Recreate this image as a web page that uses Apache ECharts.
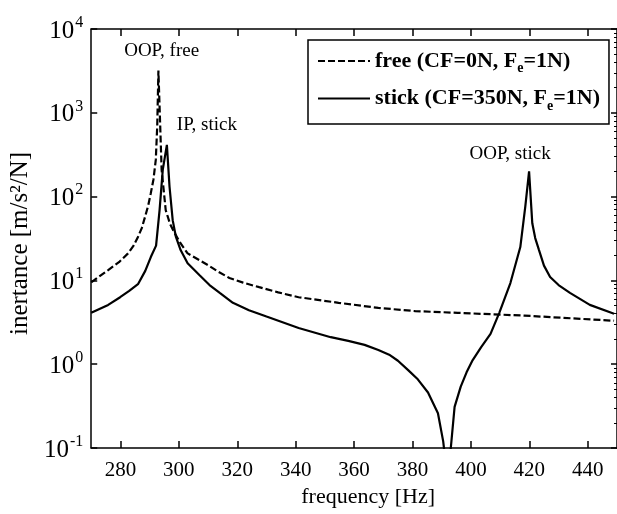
<!DOCTYPE html>
<html>
<head>
    <meta charset="utf-8">
    <title>inertance - free / stick</title>
    <script src="https://cdn.jsdelivr.net/npm/echarts@6/dist/echarts.min.js"></script>
</head>
<body style="margin:0;background:#fff">
    <div id="main" style="width:617px;height:514px;"></div>
    <script type="text/javascript">
        // curve, frequency in Hz and inertance in m/s^2/N
        var freeHz = [270, 275.8, 279.5, 282.6, 284.5, 286, 287.3, 288.4, 289.5, 290.4, 291.3, 292.1, 292.6, 293.0,
            294.1, 295.5, 297, 298.5, 300.5, 303, 307, 310, 313.5, 317.3, 322, 327.5, 334, 341, 354.7, 368.3,
            380.9, 395.5, 418.3, 449];
        var freeVal = [9.5, 13.3, 16.5, 21, 26, 33, 42, 57, 78, 110, 160, 274, 700, 3200,
            210, 69, 47, 37, 28, 21, 17.5, 15.2, 12.7, 10.7, 9.4, 8.3, 7.2, 6.3, 5.4, 4.7,
            4.3, 4.1, 3.8, 3.3];

        var stickHz = [270, 275.8, 279.9, 283, 286, 288.5, 290.4, 292.2, 293.4, 294.5, 295.9, 296.8, 297.9, 299,
            300.6, 303, 307.1, 310.5, 314, 318.5, 324, 330, 341, 352, 358, 363.6, 368.3, 372, 375, 378.5, 381.8,
            385.3, 388.7, 390.5, 391.5, 392.5, 393.1, 394.4, 396.5, 398.5, 400.6, 403.5, 406.7, 409.7, 413.5,
            416.9, 418.6, 419.9, 421, 422, 423.3, 425, 427.1, 430, 433.9, 440.7, 449];
        var stickVal = [4.1, 5.1, 6.3, 7.5, 9, 13, 19, 26, 69, 210, 415, 132, 52, 33,
            23, 16, 11.5, 8.8, 7.1, 5.4, 4.4, 3.7, 2.7, 2.1, 1.9, 1.7, 1.48, 1.3, 1.1, 0.85, 0.66,
            0.46, 0.26, 0.12, 0.06, 0.06, 0.1, 0.31, 0.54, 0.8, 1.12, 1.6, 2.3, 4.1, 9.3,
            25, 76, 200, 48, 32, 23, 15, 11, 8.8, 7.1, 5.1, 4.0];

        var xTicks = [280, 300, 320, 340, 360, 380, 400, 420, 440];
        var yMajor = [0.1, 1, 10, 100, 1000, 10000];
        var yMinor = [];
        for (var k = 0; k < yMajor.length - 1; k++) {
            for (var m = 2; m <= 9; m++) {
                yMinor.push(+(yMajor[k] * m).toPrecision(3));
            }
        }

        var notes = [
            [294.1, 5460, 'OOP, free'],
            [309.6, 715, 'IP, stick'],
            [413.4, 322, 'OOP, stick']
        ];

        function zip(xs, ys) {
            return xs.map(function (x, i) { return [x, ys[i]]; });
        }

        var font = '"Liberation Serif", "DejaVu Serif", serif';

        var dom = document.getElementById('main');
        var myChart = echarts.init(dom, null, { renderer: 'canvas' });

        var option = {
            backgroundColor: '#fff',
            animation: false,
            textStyle: { fontFamily: font, color: '#000' },
            grid: { left: 91, top: 29, width: 529, height: 419, containLabel: false },
            legend: {
                data: ['free', 'stick'],
                orient: 'vertical',
                left: 308,
                top: 40,
                padding: [10, 9, 11, 9],
                itemGap: 12,
                itemWidth: 52,
                itemHeight: 14,
                itemStyle: { opacity: 0 },
                borderColor: '#000',
                borderWidth: 1.5,
                borderRadius: 0,
                textStyle: {
                    fontFamily: font,
                    fontSize: 22,
                    fontWeight: 'bold',
                    color: '#000',
                    rich: {
                        t: { fontFamily: font, fontSize: 22, fontWeight: 'bold', color: '#000' },
                        sub: { fontFamily: font, fontSize: 14, color: '#000', verticalAlign: 'top', padding: [15, 0, 0, 0] }
                    }
                },
                formatter: function (name) {
                    if (name === 'free') {
                        return '{t|free (CF=0N, F}{sub|e}{t|=1N)}';
                    }
                    return '{t|stick (CF=350N, F}{sub|e}{t|=1N)}';
                }
            },
            xAxis: [{
                type: 'value',
                min: 270,
                max: 450,
                name: 'frequency [Hz]',
                nameLocation: 'middle',
                nameGap: 38,
                nameTextStyle: { fontFamily: font, fontSize: 22, color: '#000', padding: [0, 0, 0, 28] },
                splitLine: { show: false },
                axisLine: { lineStyle: { color: '#000', width: 1.5 } },
                axisTick: { inside: true, length: 7, customValues: xTicks, lineStyle: { color: '#000', width: 1.5 } },
                axisLabel: { customValues: xTicks, fontFamily: font, fontSize: 21, color: '#000', margin: 12 }
            }, {
                type: 'value',
                position: 'top',
                min: 270,
                max: 450,
                splitLine: { show: false },
                axisLine: { lineStyle: { color: '#000', width: 1.5 } },
                axisTick: { inside: true, length: 7, customValues: xTicks, lineStyle: { color: '#000', width: 1.5 } },
                axisLabel: { show: false }
            }],
            yAxis: [{
                type: 'log',
                logBase: 10,
                min: 0.1,
                max: 10000,
                name: 'inertance [m/s\u00b2/N]',
                nameLocation: 'middle',
                nameGap: 52,
                nameRotate: 90,
                nameTextStyle: { fontFamily: font, fontSize: 25, color: '#000', padding: [0, 0, 0, -10] },
                splitLine: { show: false },
                axisLine: { lineStyle: { color: '#000', width: 1.5 } },
                axisTick: { inside: true, length: 6, customValues: yMajor, lineStyle: { color: '#000', width: 1.5 } },
                axisLabel: {
                    customValues: yMajor,
                    margin: 8,
                    formatter: function (v) {
                        return '{b|10}{s|' + Math.round(Math.log10(v)) + '}';
                    },
                    rich: {
                        b: { fontFamily: font, fontSize: 25, color: '#000', verticalAlign: 'bottom' },
                        s: { fontFamily: font, fontSize: 16, color: '#000', verticalAlign: 'bottom', padding: [0, 0, 13, 1] }
                    }
                }
            }, {
                type: 'log',
                logBase: 10,
                min: 0.1,
                max: 10000,
                splitLine: { show: false },
                axisLine: { show: false },
                axisLabel: { show: false },
                axisTick: { show: true, inside: true, length: 3, customValues: yMinor, lineStyle: { color: '#000', width: 1 } }
            }, {
                type: 'log',
                logBase: 10,
                min: 0.1,
                max: 10000,
                position: 'right',
                splitLine: { show: false },
                axisLine: { lineStyle: { color: '#000', width: 1.5 } },
                axisTick: { inside: true, length: 6, customValues: yMajor, lineStyle: { color: '#000', width: 1.5 } },
                axisLabel: { show: false }
            }],
            series: [{
                name: 'free',
                type: 'line',
                symbol: 'none',
                clip: true,
                data: zip(freeHz, freeVal),
                lineStyle: { color: '#000', width: 2.2, type: [7, 3] },
                itemStyle: { color: '#000' }
            }, {
                name: 'stick',
                type: 'line',
                symbol: 'none',
                clip: true,
                data: zip(stickHz, stickVal),
                lineStyle: { color: '#000', width: 2.2 },
                itemStyle: { color: '#000' }
            }, {
                name: 'notes',
                type: 'scatter',
                symbolSize: 1,
                itemStyle: { color: '#fff', opacity: 1 },
                data: notes,
                silent: true,
                label: {
                    show: true,
                    position: 'inside',
                    formatter: function (p) { return p.value[2]; },
                    fontFamily: font,
                    fontSize: 19,
                    color: '#000',
                    opacity: 1,
                    textBorderWidth: 0
                }
            }]
        };

        if (option && typeof option === 'object') {
            myChart.setOption(option, true);
        }
    </script>
</body>
</html>
